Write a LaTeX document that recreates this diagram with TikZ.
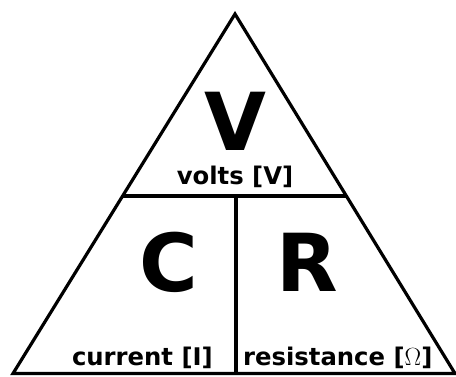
\documentclass[tikz,border=0pt]{standalone}
\usepackage{fontspec}
\setmainfont{DejaVu Sans}
\begin{document}
\begin{tikzpicture}[x=1pt,y=-1pt,
  edge/.style={line width=3.2pt,line join=miter,line cap=butt},
  big/.style={font=\fontsize{80}{80}\selectfont\bfseries,inner sep=0pt,anchor=base},
  small/.style={font=\fontsize{24.3}{24.3}\selectfont\bfseries,inner sep=0pt,anchor=base}]
\useasboundingbox (0,0) rectangle (456,377);
\coordinate (top) at (235,14);
\coordinate (bl) at (13,373.5);
\coordinate (br) at (455,373.5);
\coordinate (ml) at (122.5,196);
\coordinate (mr) at (347,196);
\coordinate (mc) at (236,196);
\coordinate (bc) at (236,373.5);
\draw[edge] (top) -- (br) -- (bl) -- cycle;
\draw[edge] (ml) -- (mr);
\draw[edge] (mc) -- (bc);
\node[big] (V) at (235,151) {V};
\node[small] (volts) at (235,185) {volts [V]};
\node[big] (C) at (169,292) {C};
\node[big] (R) at (307,292) {R};
\node[small,anchor=base east] (cur) at (213,366) {current [I]};
\node[small,anchor=base west] (res) at (243,366) {resistance [$\Omega$]};
\end{tikzpicture}
\end{document}
